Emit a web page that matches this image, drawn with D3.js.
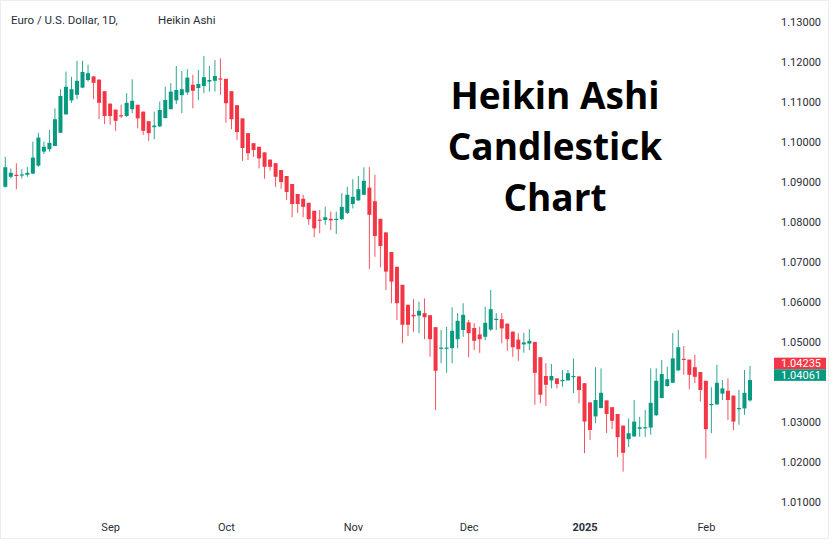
<!DOCTYPE html>
<html><head><meta charset="utf-8">
<script src="https://cdn.jsdelivr.net/npm/d3@7"></script>
<style>body{margin:0;background:#fff}svg{display:block}</style>
</head><body>
<svg id="chart" width="840" height="548"></svg>
<script>
// Heikin Ashi OHLC, EUR/USD daily (one value per candle, left to right)
const haOpen = [
1.0888,1.0913,1.0918,1.0917,1.0918,1.0921,1.0941,1.0976,1.0982,1.0990,
1.1023,1.1069,1.1104,1.1118,1.1136,1.1155,1.1164,1.1156,1.1127,1.1096,
1.1081,1.1067,1.1065,1.1082,1.1093,1.1076,1.1052,1.1037,1.1039,1.1060,
1.1082,1.1104,1.1117,1.1124,1.1143,1.1135,1.1140,1.1151,1.1153,1.1159,
1.1158,1.1127,1.1092,1.1059,1.1022,1.0997,1.0988,1.0974,1.0956,1.0947,
1.0930,1.0915,1.0895,1.0870,1.0858,1.0848,1.0828,1.0806,1.0805,1.0808,
1.0806,1.0807,1.0823,1.0845,1.0854,1.0868,1.0886,1.0852,1.0808,1.0774,
1.0725,1.0688,1.0643,1.0593,1.0568,1.0566,1.0572,1.0567,1.0537,1.0483,
1.0484,1.0485,1.0507,1.0530,1.0549,1.0535,1.0519,1.0513,1.0531,1.0556,
1.0557,1.0546,1.0526,1.0506,1.0494,1.0496,1.0500,1.0462,1.0415,1.0404,
1.0409,1.0402,1.0404,1.0413,1.0414,1.0397,1.0349,1.0314,1.0335,1.0354,
1.0337,1.0320,1.0291,1.0257,1.0264,1.0283,1.0285,1.0286,1.0317,1.0360,
1.0390,1.0398,1.0429,1.0458,1.0456,1.0437,1.0425,1.0403,1.0342,1.0344,
1.0371,1.0378,1.0366,1.0334,1.0334,1.0354];
const haHigh = [
1.0963,1.0934,1.0947,1.0932,1.0938,1.1001,1.1023,1.1001,1.1030,1.1084,
1.1132,1.1176,1.1163,1.1203,1.1203,1.1193,1.1164,1.1156,1.1127,1.1096,
1.1081,1.1093,1.1122,1.1157,1.1093,1.1076,1.1052,1.1076,1.1101,1.1138,
1.1147,1.1190,1.1178,1.1182,1.1168,1.1180,1.1215,1.1190,1.1205,1.1209,
1.1158,1.1127,1.1092,1.1059,1.1022,1.0997,1.0988,1.0974,1.0956,1.0947,
1.0930,1.0915,1.0895,1.0870,1.0868,1.0848,1.0828,1.0830,1.0838,1.0826,
1.0826,1.0872,1.0888,1.0907,1.0915,1.0937,1.0937,1.0918,1.0808,1.0774,
1.0725,1.0688,1.0643,1.0593,1.0607,1.0601,1.0609,1.0567,1.0537,1.0530,
1.0538,1.0587,1.0572,1.0597,1.0555,1.0547,1.0538,1.0588,1.0630,1.0572,
1.0572,1.0546,1.0526,1.0522,1.0523,1.0532,1.0500,1.0462,1.0447,1.0445,
1.0409,1.0430,1.0430,1.0459,1.0414,1.0397,1.0349,1.0437,1.0434,1.0354,
1.0337,1.0320,1.0291,1.0309,1.0355,1.0313,1.0330,1.0434,1.0434,1.0455,
1.0438,1.0522,1.0530,1.0490,1.0456,1.0468,1.0425,1.0403,1.0387,1.0443,
1.0405,1.0409,1.0366,1.0380,1.0430,1.0440];
const haLow = [
1.0886,1.0909,1.0882,1.0909,1.0913,1.0920,1.0938,1.0970,1.0976,1.0990,
1.1023,1.1069,1.1098,1.1107,1.1135,1.1151,1.1107,1.1057,1.1045,1.1043,
1.1028,1.1060,1.1063,1.1072,1.1034,1.1018,1.1003,1.1007,1.1038,1.1059,
1.1082,1.1095,1.1072,1.1118,1.1084,1.1105,1.1122,1.1126,1.1126,1.1118,
1.1048,1.1032,1.1005,1.0953,1.0955,1.0963,1.0934,1.0908,1.0929,1.0888,
1.0883,1.0855,1.0812,1.0823,1.0812,1.0793,1.0762,1.0772,1.0793,1.0780,
1.0770,1.0805,1.0820,1.0834,1.0853,1.0868,1.0682,1.0713,1.0687,1.0630,
1.0597,1.0555,1.0497,1.0515,1.0526,1.0522,1.0507,1.0463,1.0330,1.0447,
1.0423,1.0447,1.0484,1.0513,1.0462,1.0480,1.0473,1.0505,1.0528,1.0530,
1.0497,1.0478,1.0463,1.0453,1.0473,1.0480,1.0343,1.0347,1.0340,1.0384,
1.0384,1.0388,1.0404,1.0372,1.0347,1.0222,1.0255,1.0297,1.0334,1.0272,
1.0282,1.0213,1.0176,1.0237,1.0263,1.0263,1.0263,1.0268,1.0315,1.0359,
1.0388,1.0398,1.0428,1.0418,1.0382,1.0397,1.0351,1.0209,1.0272,1.0343,
1.0355,1.0305,1.0280,1.0293,1.0318,1.0351];
const haClose = [
1.0937,1.0923,1.0916,1.0919,1.0923,1.0961,1.1011,1.0988,1.0998,1.1057,
1.1115,1.1138,1.1132,1.1153,1.1175,1.1172,1.1148,1.1098,1.1065,1.1065,
1.1053,1.1064,1.1098,1.1103,1.1059,1.1028,1.1022,1.1041,1.1080,1.1105,
1.1126,1.1130,1.1132,1.1161,1.1128,1.1145,1.1162,1.1155,1.1165,1.1156,
1.1097,1.1057,1.1025,1.0985,1.0972,1.0980,1.0959,1.0938,1.0938,1.0913,
1.0900,1.0875,1.0845,1.0845,1.0838,1.0807,1.0784,1.0804,1.0812,1.0804,
1.0808,1.0838,1.0868,1.0863,1.0882,1.0903,1.0818,1.0765,1.0740,1.0676,
1.0651,1.0597,1.0543,1.0543,1.0564,1.0578,1.0562,1.0507,1.0428,1.0486,
1.0486,1.0528,1.0553,1.0568,1.0522,1.0503,1.0507,1.0548,1.0582,1.0558,
1.0534,1.0507,1.0487,1.0482,1.0499,1.0503,1.0423,1.0368,1.0393,1.0415,
1.0395,1.0405,1.0422,1.0415,1.0380,1.0301,1.0280,1.0355,1.0373,1.0320,
1.0303,1.0262,1.0223,1.0272,1.0301,1.0287,1.0287,1.0348,1.0403,1.0420,
1.0407,1.0459,1.0487,1.0455,1.0418,1.0413,1.0380,1.0282,1.0345,1.0398,
1.0384,1.0355,1.0301,1.0335,1.0373,1.0405];

const timeTickIndex = [19, 40, 63, 84, 105, 127];
const timeTickLabels = ["Sep", "Oct", "Nov", "Dec", "2025", "Feb"];
const priceTicks = [1.13, 1.12, 1.11, 1.10, 1.09, 1.08, 1.07, 1.06, 1.05, 1.03, 1.02, 1.01];
const lastPrices = [1.04235, 1.04061];
const titleLines = ["Heikin Ashi", "Candlestick", "Chart"];

const UP = "#089981", DOWN = "#F23645";
const svg = d3.select("#chart");
const n = haClose.length;
const data = d3.range(n).map(i => ({i, o: haOpen[i], h: haHigh[i], l: haLow[i], c: haClose[i]}));

const x = d3.scaleLinear().domain([0, n - 1]).range([5.3, 750]);
const y = d3.scaleLinear().domain([1.01, 1.13]).range([502, 22]);
const bw = 4;

// frame
svg.append("rect").attr("x", 0.5).attr("y", 0.5).attr("width", 828).attr("height", 538)
  .attr("fill", "#fff").attr("stroke", "#ededed");

// candles
const g = svg.append("g");
const col = d => d.c >= d.o ? UP : DOWN;
g.selectAll("line.wick").data(data).join("line")
  .attr("x1", d => x(d.i)).attr("x2", d => x(d.i))
  .attr("y1", d => y(d.h)).attr("y2", d => y(d.l))
  .attr("stroke", col).attr("stroke-width", 1).attr("opacity", 0.85);
g.selectAll("rect.body").data(data).join("rect")
  .attr("x", d => x(d.i) - bw / 2).attr("width", bw)
  .attr("y", d => y(Math.max(d.o, d.c)))
  .attr("height", d => Math.max(1.2, Math.abs(y(d.o) - y(d.c))))
  .attr("fill", col);

// price axis
const ya = svg.append("g").attr("transform", "translate(821,0)")
  .call(d3.axisRight(y).tickValues(priceTicks).tickFormat(d3.format(".5f")).tickSize(0));
ya.select(".domain").remove();
ya.selectAll("text").attr("x", 0).attr("text-anchor", "end")
  .attr("font-family", "Roboto, 'Liberation Sans', sans-serif").attr("font-size", 11).attr("fill", "#2a2e39");

// last price labels
const yGreen = y(lastPrices[1]) - 4.5, lh = 11.6;
const labelCenters = [yGreen - lh, yGreen];
const labelColors = [DOWN, UP];
lastPrices.forEach((v, k) => {
  svg.append("rect").attr("x", 774).attr("y", labelCenters[k] - lh / 2).attr("width", 52).attr("height", lh)
    .attr("fill", labelColors[k]);
  svg.append("text").attr("x", 821).attr("y", labelCenters[k]).attr("dy", "0.36em")
    .attr("text-anchor", "end").attr("font-family", "Roboto, 'Liberation Sans', sans-serif")
    .attr("font-size", 11).attr("fill", "#fff").text(d3.format(".5f")(v));
});

// time axis
const xa = svg.append("g").attr("transform", "translate(0,520)")
  .call(d3.axisBottom(x).tickValues(timeTickIndex).tickFormat((d, k) => timeTickLabels[k]).tickSize(0));
xa.select(".domain").remove();
xa.selectAll("text").attr("font-family", "Roboto, 'Liberation Sans', sans-serif").attr("font-size", 11)
  .attr("fill", "#2a2e39").attr("font-weight", (d, k) => timeTickLabels[k] === "2025" ? "bold" : "normal");

// header
const hf = "Roboto, 'Liberation Sans', sans-serif";
svg.append("text").attr("x", 11).attr("y", 24).attr("font-family", hf).attr("font-size", 11.5)
  .attr("fill", "#2a2e39").text("Euro / U.S. Dollar, 1D,");
svg.append("text").attr("x", 158).attr("y", 24).attr("font-family", hf).attr("font-size", 11.5)
  .attr("fill", "#2a2e39").text("Heikin Ashi");

// title
svg.append("g").selectAll("text").data(titleLines).join("text")
  .attr("x", 555).attr("y", (d, k) => 109 + k * 51)
  .attr("text-anchor", "middle").attr("font-family", "'Open Sans', sans-serif").attr("font-weight", 700)
  .attr("font-size", 37).attr("fill", "#000").text(d => d);
</script>
</body></html>
